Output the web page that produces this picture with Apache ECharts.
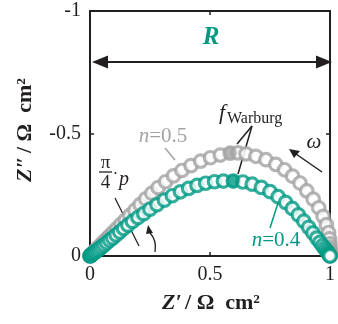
<!DOCTYPE html>
<html>
<head>
<meta charset="utf-8">
<script src="https://cdn.jsdelivr.net/npm/echarts@6/dist/echarts.min.js"></script>
<style>html,body{margin:0;padding:0;background:#fff}#c{width:338px;height:324px}</style>
</head>
<body>
<div id="c"></div>
<script>
// Z' and Z'' (Ω cm²), high frequency (origin) -> low frequency (Z' = 1)
const n05Points = [
  [0,0],[0.002,-0.002],[0.004,-0.004],[0.007,-0.007],[0.010,-0.010],[0.014,-0.014],
  [0.019,-0.019],[0.025,-0.025],[0.032,-0.032],[0.040,-0.040],[0.049,-0.049],[0.059,-0.059],
  [0.070,-0.070],[0.083,-0.083],[0.097,-0.097],[0.112,-0.112],[0.129,-0.129],[0.147,-0.147],
  [0.166,-0.166],[0.187,-0.187],[0.209,-0.210],[0.232,-0.233],[0.257,-0.256],[0.284,-0.279],
  [0.315,-0.303],[0.348,-0.327],[0.383,-0.349],[0.421,-0.369],[0.461,-0.387],[0.502,-0.401],
  [0.543,-0.412],[0.584,-0.420],[0.617,-0.421],[0.650,-0.417],[0.691,-0.407],[0.733,-0.393],
  [0.774,-0.374],[0.811,-0.352],[0.844,-0.326],[0.875,-0.298],[0.903,-0.266],[0.930,-0.232],
  [0.953,-0.197],[0.971,-0.162],[0.985,-0.128],[0.994,-0.096],[0.998,-0.070],[1.0,-0.050],
  [1.0,-0.036],[1.0,-0.026],[1.0,-0.018],[1.0,-0.012],[1.0,-0.008],[1.0,-0.005],[1.0,-0.002],[1.0,0]
];
const n04Points = [
  [0,0],[0.002,-0.0015],[0.004,-0.003],[0.007,-0.005],[0.010,-0.0075],[0.014,-0.011],
  [0.019,-0.014],[0.025,-0.019],[0.032,-0.024],[0.040,-0.030],[0.049,-0.037],[0.059,-0.045],
  [0.070,-0.054],[0.082,-0.064],[0.095,-0.074],[0.109,-0.086],[0.124,-0.098],[0.140,-0.112],
  [0.158,-0.126],[0.177,-0.141],[0.200,-0.157],[0.224,-0.173],[0.250,-0.191],[0.279,-0.209],
  [0.310,-0.228],[0.343,-0.246],[0.377,-0.262],[0.411,-0.276],[0.446,-0.288],[0.482,-0.297],
  [0.519,-0.303],[0.556,-0.306],[0.597,-0.306],[0.637,-0.302],[0.676,-0.293],[0.714,-0.280],
  [0.750,-0.263],[0.784,-0.242],[0.815,-0.219],[0.843,-0.194],[0.868,-0.168],[0.891,-0.142],
  [0.911,-0.117],[0.929,-0.094],[0.945,-0.073],[0.958,-0.056],[0.969,-0.042],[0.978,-0.031],
  [0.985,-0.022],[0.990,-0.015],[0.994,-0.009],[0.997,-0.005],[0.999,-0.002],[1.0,0]
];
const n05Warburg = [[0.584,-0.420]];
const n04Warburg = [[0.597,-0.306]];
const xTickValues = [0, 0.5, 1];
const yTickValues = [-1, -0.5, 0];

const TEAL = '#009a84';
const GRAY = '#a3a3a3';
const INK = '#231f20';
const SERIF = '"Liberation Serif", "DejaVu Serif", serif';

const chart = echarts.init(document.getElementById('c'), null, {renderer: 'canvas'});

function axisCommon(showLabel) {
  return {
    type: 'value',
    axisLine: {show: true, onZero: false, lineStyle: {color: INK, width: 2}},
    axisTick: {show: true, inside: true, length: 4, lineStyle: {color: INK, width: 1.5}},
    axisLabel: {show: showLabel, fontFamily: SERIF, fontSize: 20, color: INK, margin: 9},
    splitLine: {show: false}
  };
}

function txt(x, y, text, font, fill, align, valign, extra) {
  return Object.assign({
    type: 'text', z: 100,
    style: {text: text, x: x, y: y, font: font, fill: fill,
            align: align, verticalAlign: valign, textAlign: align, textVerticalAlign: valign}
  }, extra || {});
}
function seg(x1, y1, x2, y2, color, w, z) {
  return {type: 'line', z: z, shape: {x1: x1, y1: y1, x2: x2, y2: y2},
          style: {stroke: color, lineWidth: w}};
}
function tri(pts, color) {
  return {type: 'polygon', z: 100, shape: {points: pts}, style: {fill: color}};
}

const ringStyle = c => ({color: '#fff', borderColor: c, borderWidth: 3.2});

const option = {
  animation: false,
  grid: {left: 90, right: 5, top: 11, bottom: 68},
  xAxis: [
    Object.assign(axisCommon(true), {min: 0, max: 1, interval: 0.5, position: 'bottom'}),
    Object.assign(axisCommon(false), {min: 0, max: 1, interval: 0.5, position: 'top'})
  ],
  yAxis: [
    Object.assign(axisCommon(true), {min: -1, max: 0, interval: 0.5, inverse: true, position: 'left'}),
    Object.assign(axisCommon(false), {min: -1, max: 0, interval: 0.5, inverse: true, position: 'right'})
  ],
  series: [
    {type: 'scatter', name: 'n=0.5', data: n05Points, symbol: 'circle', symbolSize: 12.5,
     itemStyle: ringStyle(GRAY), clip: false, silent: true, z: 2},
    {type: 'scatter', name: 'fWarburg n=0.5', data: n05Warburg, symbol: 'circle', symbolSize: 13,
     itemStyle: {color: GRAY}, clip: false, silent: true, z: 3},
    {type: 'scatter', name: 'n=0.4', data: n04Points, symbol: 'circle', symbolSize: 12.5,
     itemStyle: ringStyle(TEAL), clip: false, silent: true, z: 4},
    {type: 'scatter', name: 'fWarburg n=0.4', data: n04Warburg, symbol: 'circle', symbolSize: 13,
     itemStyle: {color: TEAL}, clip: false, silent: true, z: 5}
  ],
  graphic: [
    // axis titles
    {type: 'text', z: 100,
     style: {text: '{i|Z′} {b|/ Ω  cm²}', x: 211, y: 303, align: 'center', verticalAlign: 'middle',
       textAlign: 'center', textVerticalAlign: 'middle', fill: INK,
       rich: {i: {fontFamily: SERIF, fontSize: 22, fontWeight: 'bold', fontStyle: 'italic', fill: INK},
              b: {fontFamily: SERIF, fontSize: 22, fontWeight: 'bold', fill: INK}}}},
    {type: 'text', z: 100, x: 25, y: 130, rotation: Math.PI / 2,
     style: {text: '{i|Z″} {b|/ Ω  cm²}', x: 0, y: 0, align: 'center', verticalAlign: 'middle',
       textAlign: 'center', textVerticalAlign: 'middle', fill: INK,
       rich: {i: {fontFamily: SERIF, fontSize: 22, fontWeight: 'bold', fontStyle: 'italic', fill: INK},
              b: {fontFamily: SERIF, fontSize: 22, fontWeight: 'bold', fill: INK}}}},
    // R double arrow
    txt(211, 38, 'R', 'italic bold 25px ' + SERIF, TEAL, 'center', 'middle'),
    seg(100, 62, 324, 62, INK, 2, 100),
    tri([[92, 62], [108, 55.5], [108, 68.5]], INK),
    tri([[332, 62], [316, 55.5], [316, 68.5]], INK),
    // f_Warburg label and leaders
    txt(222, 113, 'f', 'italic 22px ' + SERIF, INK, 'center', 'middle'),
    txt(227, 119, 'Warburg', '16px ' + SERIF, INK, 'left', 'middle'),
    seg(252, 126, 237, 144, INK, 1.5, 1),
    seg(252, 126, 238, 174, INK, 1.5, 1),
    // omega and arrow
    txt(314, 142, 'ω', 'italic 21px ' + SERIF, INK, 'center', 'middle'),
    seg(322, 172, 296, 154, INK, 1.5, 100),
    tri([[289, 149], [300, 151], [294, 158]], INK),
    // n=0.5
    {type: 'text', z: 100, style: {text: '{i|n}{r|=0.5}', x: 163, y: 136, align: 'center', verticalAlign: 'middle',
      textAlign: 'center', textVerticalAlign: 'middle',
      rich: {i: {fontFamily: SERIF, fontSize: 21, fontStyle: 'italic', fill: GRAY},
             r: {fontFamily: SERIF, fontSize: 21, fill: GRAY}}}},
    seg(165, 148, 175, 160, GRAY, 1.5, 1),
    // n=0.4
    {type: 'text', z: 100, style: {text: '{i|n}{r|=0.4}', x: 276, y: 240, align: 'center', verticalAlign: 'middle',
      textAlign: 'center', textVerticalAlign: 'middle',
      rich: {i: {fontFamily: SERIF, fontSize: 21, fontStyle: 'italic', fill: TEAL},
             r: {fontFamily: SERIF, fontSize: 21, fill: TEAL}}}},
    seg(278, 203, 270, 228, TEAL, 1.5, 100),
    // pi/4 * p
    txt(105.5, 163, 'π', '19px ' + SERIF, INK, 'center', 'middle'),
    seg(99, 172, 112, 172, INK, 1.3, 100),
    txt(105.5, 183, '4', '19px ' + SERIF, INK, 'center', 'middle'),
    txt(115.5, 175, '·', '16px ' + SERIF, INK, 'center', 'middle'),
    txt(124, 180, 'p', 'italic 20px ' + SERIF, INK, 'center', 'middle'),
    seg(115, 198, 139, 246, INK, 1.3, 1),
    // angle arrow
    {type: 'bezierCurve', z: 100, shape: {x1: 155, y1: 252, x2: 150, y2: 233, cpx1: 157, cpy1: 240},
     style: {stroke: INK, lineWidth: 1.3, fill: null}},
    tri([[148, 225], [146, 234], [153, 233]], INK)
  ]
};
chart.setOption(option);
</script>
</body>
</html>
